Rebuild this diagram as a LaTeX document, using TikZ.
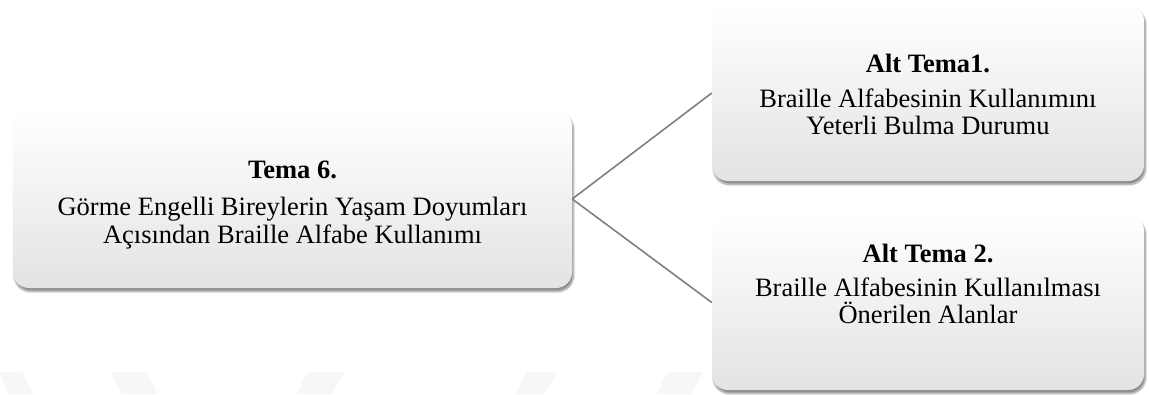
\documentclass[tikz,border=0pt]{standalone}
\usepackage{fontspec}
\setmainfont{Liberation Serif}
\usetikzlibrary{shadows.blur}
\definecolor{linegray}{HTML}{7F7F7F}
\definecolor{wm}{HTML}{F7F7F7}
\tikzset{
  themebox/.style={rounded corners=16pt, top color=white, bottom color=black!11,
    draw=none, inner sep=0pt,
    blur shadow={shadow xshift=1.5pt, shadow yshift=-3.5pt, shadow blur steps=8, shadow opacity=45}},
  txt/.style={anchor=base, inner sep=0pt, font=\fontsize{26.5}{28}\selectfont},
  ttl/.style={txt, font=\fontsize{26.5}{28}\selectfont\bfseries},
  conn/.style={draw=linegray, line width=1.6pt},
  wmark/.style={fill=wm, draw=none}
}
\begin{document}
\begin{tikzpicture}[x=1pt,y=-1pt]
\useasboundingbox (0,0) rectangle (1149,394);
% faint watermark
\fill[wmark] (0,372) -- (22,372) -- (34,394) -- (8,394) -- cycle;
\fill[wmark] (110,372) -- (146,372) -- (158,394) -- (122,394) -- cycle;
\fill[wmark] (308,372) -- (344,372) -- (332,394) -- (296,394) -- cycle;
\fill[wmark] (527,372) -- (557,372) -- (545,394) -- (515,394) -- cycle;
\fill[wmark] (668,372) -- (703,372) -- (691,394) -- (656,394) -- cycle;
% boxes
\node[themebox, minimum width=559pt, minimum height=178pt] (main) at (292.5,199) {};
\node[themebox, minimum width=432pt, minimum height=176pt] (sub1) at (928,93) {};
\node[themebox, minimum width=432pt, minimum height=175pt] (sub2) at (928,302.5) {};
% texts
\node[ttl] (mainT) at (292.5,178) {Tema 6.};
\node[txt] (mainA) at (292.5,215) {Görme Engelli Bireylerin Yaşam Doyumları};
\node[txt] (mainB) at (292.5,243) {Açısından Braille Alfabe Kullanımı};
\node[ttl] (sub1T) at (928,72) {Alt Tema1.};
\node[txt] (sub1A) at (928,107) {Braille Alfabesinin Kullanımını};
\node[txt] (sub1B) at (928,134) {Yeterli Bulma Durumu};
\node[ttl] (sub2T) at (928,262) {Alt Tema 2.};
\node[txt] (sub2A) at (928,296) {Braille Alfabesinin Kullanılması};
\node[txt] (sub2B) at (928,323) {Önerilen Alanlar};
% connectors
\draw[conn] (main.east) -- (sub1.west);
\draw[conn] (main.east) -- (sub2.west);
\end{tikzpicture}
\end{document}
